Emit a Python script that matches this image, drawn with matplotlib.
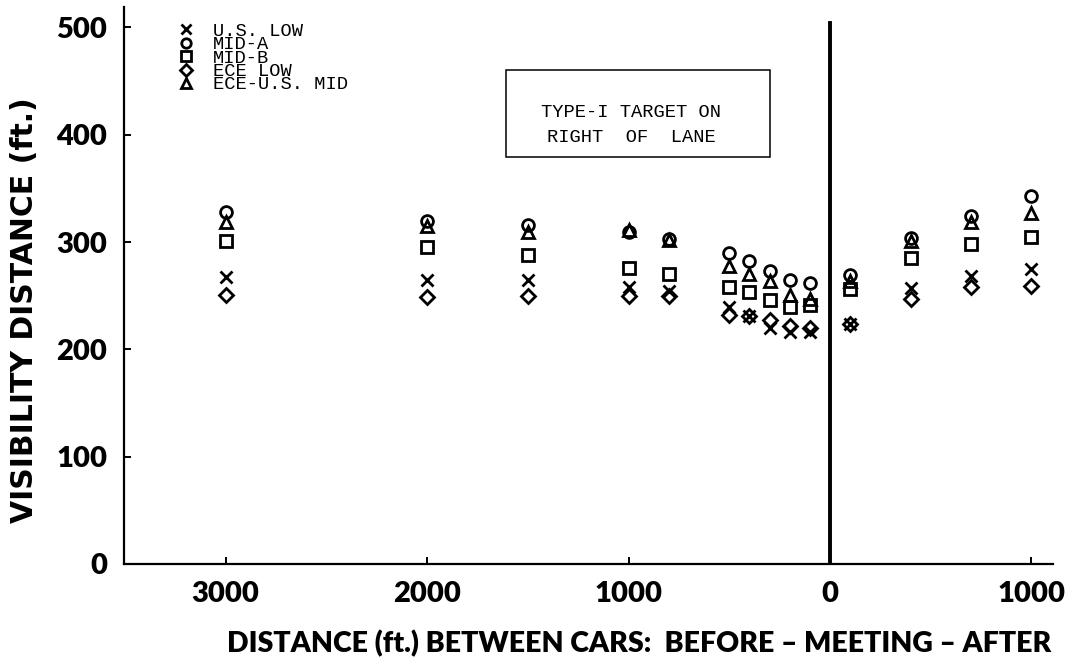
import matplotlib
matplotlib.use("Agg")
import matplotlib.pyplot as plt
from matplotlib.patches import Rectangle

# distance between cars (ft); before meeting is negative, after meeting positive
dist = [-3000, -2000, -1500, -1000, -800, -500, -400, -300, -200, -100,
        100, 400, 700, 1000]

# visibility distance (ft) per beam
us_low = [267, 265, 265, 258, 254, 239, 231, 220, 216, 216, 224, 257, 268, 275]
mid_a = [328, 320, 316, 309, 303, 290, 282, 273, 265, 262, 269, 304, 324, 343]
mid_b = [301, 295, 288, 276, 270, 258, 253, 246, 239, 241, 256, 285, 298, 305]
ece_low = [251, 249, 250, 250, 250, 232, 231, 227, 222, 220, 224, 247, 258, 259]
ece_us_mid = [319, 315, 309, 311, 302, 278, 270, 264, 251, 247, 264, 301, 319, 327]

xtick_pos = [-3000, -2000, -1000, 0, 1000]
xtick_lbl = ["3000", "2000", "1000", "0", "1000"]
ytick_pos = [0, 100, 200, 300, 400, 500]

bold_font = "Lato"
mono_font = "Liberation Mono"

fig = plt.figure(figsize=(10.71, 6.58), dpi=100)
ax = fig.add_axes([0.1158, 0.1429, 0.8674, 0.8465])

mk = dict(linestyle="none", color="black", markerfacecolor="none",
          markeredgecolor="black", markeredgewidth=2.0, markersize=8.5)
ax.plot(dist, us_low, marker="x", label="U.S. LOW", **mk)
ax.plot(dist, mid_a, marker="o", label="MID-A", **mk)
ax.plot(dist, mid_b, marker="s", label="MID-B", **mk)
ax.plot(dist, ece_low, marker="D", label="ECE LOW",
        **{**mk, "markersize": 7.5})
ax.plot(dist, ece_us_mid, marker="^", label="ECE-U.S. MID", **mk)

# meeting point
ax.axvline(0, ymin=0, ymax=504 / 519, color="black", linewidth=2.8)

ax.set_xlim(-3504, 1107)
ax.set_ylim(0, 519)

for s in ["top", "right"]:
    ax.spines[s].set_visible(False)
for s in ["left", "bottom"]:
    ax.spines[s].set_linewidth(1.6)

ax.set_xticks(xtick_pos)
ax.set_xticklabels(xtick_lbl)
ax.set_yticks(ytick_pos)
ax.tick_params(direction="in", length=5, width=1.4, colors="black")
ax.tick_params(axis="y", pad=12)
ax.tick_params(axis="x", pad=12)
for lbl in ax.get_xticklabels() + ax.get_yticklabels():
    lbl.set_fontfamily(bold_font)
    lbl.set_fontweight("heavy")
    lbl.set_fontsize(21)

ax.set_xlabel("DISTANCE (ft.) BETWEEN CARS:  BEFORE \u2013 MEETING \u2013 AFTER",
              fontfamily=bold_font, fontweight="heavy", fontsize=20.5)
ax.xaxis.set_label_coords(0.555, -0.118)
ax.set_ylabel("VISIBILITY DISTANCE (ft.)",
              fontfamily="DejaVu Sans", fontweight="bold", fontsize=21.5)
ax.yaxis.set_label_coords(-0.092, 0.456)

leg = ax.legend(loc="upper left", bbox_to_anchor=(0.049, 0.985),
                frameon=False, handlelength=1.0, handletextpad=0.9,
                labelspacing=-0.2, borderaxespad=0,
                prop={"family": mono_font, "size": 13.5}, markerscale=0.8)

# note box
ax.add_patch(Rectangle((0.411, 0.731), 0.284, 0.156, transform=ax.transAxes,
                       fill=False, edgecolor="black", linewidth=1.1))
ax.text(0.546, 0.810, "TYPE-I TARGET ON", transform=ax.transAxes,
        ha="center", va="center", fontfamily=mono_font, fontsize=13.5)
ax.text(0.546, 0.765, "RIGHT  OF  LANE", transform=ax.transAxes,
        ha="center", va="center", fontfamily=mono_font, fontsize=13.5)

fig.savefig("out.png", dpi=100)
